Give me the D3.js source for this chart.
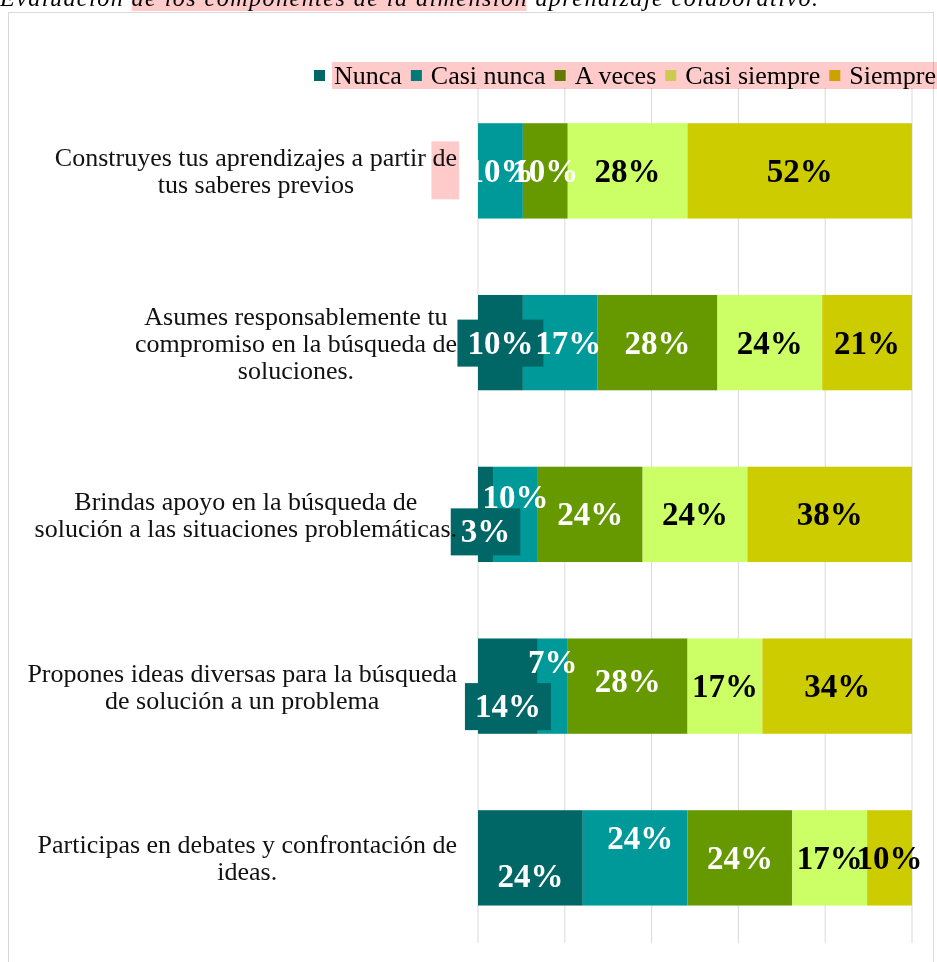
<!DOCTYPE html>
<html>
<head>
<meta charset="utf-8">
<script src="https://cdn.jsdelivr.net/npm/d3@7"></script>
<style>
  body { margin: 0; background: #fff; }
  svg { display: block; }
  text { font-family: "Liberation Serif", "Times New Roman", serif; }
</style>
</head>
<body>
<svg id="chart" width="937" height="962"></svg>
<script>
// data (percent of respondents)
const categoryLines = [
  ["Construyes tus aprendizajes a partir de", "tus saberes previos"],
  ["Asumes responsablemente tu", "compromiso en la búsqueda de", "soluciones."],
  ["Brindas apoyo en la búsqueda de", "solución a las situaciones problemáticas."],
  ["Propones ideas diversas para la búsqueda", "de solución a un problema"],
  ["Participas en debates y confrontación de", "ideas."]
];
const categories = categoryLines.map(l => l.join(" "));
const seriesNames = ["Nunca", "Casi nunca", "A veces", "Casi siempre", "Siempre"];
const nunca       = [0, 10.34, 3.45, 13.79, 24.14];
const casiNunca   = [10.34, 17.24, 10.34, 6.90, 24.14];
const aVeces      = [10.34, 27.59, 24.14, 27.59, 24.14];
const casiSiempre = [27.59, 24.14, 24.14, 17.24, 17.24];
const siempre     = [51.72, 20.69, 37.93, 34.48, 10.34];
const xTicks = [0, 20, 40, 60, 80, 100];
const titleText = "Evaluación de los componentes de la dimensión aprendizaje colaborativo.";

const colors = ["#006666", "#009999", "#669900", "#ccff66", "#cccc00"];
const labelColors = ["#fff", "#fff", "#fff", "#000", "#000"];
// label collision shifts, like the original office chart did (px)
const labelDy = [
  [0, 0, 17, 20, 18],
  [0, 0, -17, -24, -20],
  [0, 0, 0, -5, 0],
  [0, 0, 0, 0, 0],
  [0, 0, 0, 0, 0]
];
const labelDx = [
  [0, 0, 0, 0, 0],
  [0, 8, 0, 0, 5],
  [0, 0, 0, 0, 0],
  [0, 0, 0, 0, 0],
  [0, 0, 0, 0, 0]
];

const svg = d3.select("#chart");
const highlight = "#ffcaca";

// title, cut off at the top of the page
const title = svg.append("text")
  .attr("x", 0).attr("y", 6)
  .attr("font-size", 24).attr("font-style", "italic")
  .attr("textLength", 818).attr("lengthAdjust", "spacing")
  .attr("fill", "#000")
  .text(titleText);
const tNode = title.node();
const a = tNode.getExtentOfChar(11), b = tNode.getExtentOfChar(44);
svg.insert("rect", "text")
  .attr("x", a.x).attr("y", 0)
  .attr("width", b.x + b.width - a.x).attr("height", 11)
  .attr("fill", highlight);

// frame
svg.append("rect")
  .attr("x", 8.5).attr("y", 12.5).attr("width", 925).attr("height", 970)
  .attr("fill", "#fff").attr("stroke", "#d9d9d9");

const x = d3.scaleLinear().domain([0, 100]).range([478, 912]);
const y = d3.scaleBand().domain(categories).range([85, 943.75])
  .paddingInner(0.445).paddingOuter(0.2225);

// gridlines
svg.append("g").selectAll("line").data(xTicks).join("line")
  .attr("x1", d => x(d)).attr("x2", d => x(d))
  .attr("y1", 88).attr("y2", 943)
  .attr("stroke", "#d9d9d9").attr("stroke-width", 1);

const rows = categories.map((c, i) => ({
  cat: c,
  "Nunca": nunca[i], "Casi nunca": casiNunca[i], "A veces": aVeces[i],
  "Casi siempre": casiSiempre[i], "Siempre": siempre[i]
}));
const stacked = d3.stack().keys(seriesNames)(rows);

svg.append("g").selectAll("g").data(stacked).join("g")
  .attr("fill", (s, i) => colors[i])
  .selectAll("rect").data(s => s).join("rect")
  .attr("x", d => x(d[0]))
  .attr("y", d => y(d.data.cat))
  .attr("width", d => x(d[1]) - x(d[0]))
  .attr("height", y.bandwidth());

// data labels
const lblG = svg.append("g");
stacked.forEach((s, si) => {
  s.forEach((d, ci) => {
    const v = d[1] - d[0];
    if (v <= 0) return;
    const cx = x((d[0] + d[1]) / 2) + labelDx[si][ci];
    const cy = y(d.data.cat) + y.bandwidth() / 2 + labelDy[si][ci];
    const g = lblG.append("g");
    const t = g.append("text")
      .attr("x", cx).attr("y", cy + 11)
      .attr("text-anchor", "middle")
      .attr("font-size", 33).attr("font-weight", "bold")
      .attr("fill", labelColors[si])
      .text(Math.round(v) + "%");
    if (si === 0) {
      const w = t.node().getComputedTextLength();
      g.insert("rect", "text")
        .attr("x", cx - w / 2 - 10).attr("y", cy - 23)
        .attr("width", w + 20).attr("height", 47)
        .attr("fill", colors[0]);
    }
  });
});

// category labels: wrapped block right-aligned, lines centred in it
const lineH = 27;
const catG = svg.append("g");
categoryLines.forEach((lines, ci) => {
  const cy = y(categories[ci]) + y.bandwidth() / 2;
  const texts = lines.map((ln, li) => catG.append("text")
    .attr("y", cy + (li - (lines.length - 1) / 2) * lineH + 9)
    .attr("font-size", 26).attr("fill", "#111")
    .attr("text-anchor", "middle")
    .text(ln));
  const maxW = d3.max(texts, t => t.node().getComputedTextLength());
  texts.forEach(t => t.attr("x", 457 - maxW / 2));
  if (ci === 0) {
    const n = texts[0].node();
    const len = lines[0].length;
    const e1 = n.getExtentOfChar(len - 2), e2 = n.getExtentOfChar(len - 1);
    catG.insert("rect", "text")
      .attr("x", e1.x - 1).attr("y", e1.y - 2)
      .attr("width", e2.x + e2.width - e1.x + 3).attr("height", lineH * 2 + 4)
      .attr("fill", highlight);
  }
});

// legend
const legG = svg.append("g");
let lx = 314;
seriesNames.forEach((name, i) => {
  legG.append("rect")
    .attr("x", lx).attr("y", 70).attr("width", 11).attr("height", 11)
    .attr("fill", colors[i]);
  const t = legG.append("text")
    .attr("x", lx + 20).attr("y", 84)
    .attr("font-size", 26).attr("fill", "#000")
    .text(name);
  lx += 20 + t.node().getComputedTextLength() + 9;
});
svg.append("rect")
  .attr("x", 332).attr("y", 62).attr("width", 605).attr("height", 27)
  .attr("fill", highlight)
  .style("mix-blend-mode", "multiply");
</script>
</body>
</html>
